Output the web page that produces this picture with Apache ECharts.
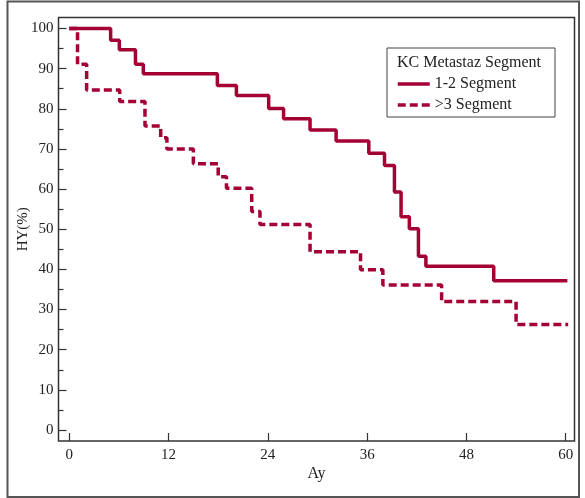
<!DOCTYPE html>
<html>
<head>
<meta charset="utf-8">
<script src="https://cdn.jsdelivr.net/npm/echarts@6/dist/echarts.min.js"></script>
<style>
  html, body { margin: 0; padding: 0; background: #fff; }
  #chart { width: 585px; height: 498px; }
</style>
</head>
<body>
<div id="chart"></div>
<script>
// survival curves (months / percent)
var seg12Time = [0, 5.0, 6.05, 8.0, 8.95, 17.9, 20.2, 24.1, 25.9, 29.1, 32.25, 36.2, 38.1, 39.3, 40.1, 41.1, 42.2, 43.1, 51.3, 60.2];
var seg12Value = [100, 97.1, 94.7, 91.1, 88.7, 85.8, 83.3, 80.1, 77.5, 74.7, 72.0, 68.9, 65.9, 59.3, 53.1, 50.1, 43.3, 40.8, 37.2, 37.2];
var seg3Time = [0, 1.0, 2.1, 6.1, 9.15, 11.05, 11.8, 15.0, 18.0, 19.0, 22.05, 23.05, 29.1, 35.2, 37.9, 45.0, 54.0, 60.3];
var seg3Value = [100, 91.1, 84.7, 81.8, 75.7, 72.8, 70.0, 66.3, 63.1, 60.2, 54.4, 51.2, 44.4, 39.9, 36.1, 32.0, 26.3, 26.3];
var xTicks = [0, 12, 24, 36, 48, 60];
var yTicks = [0, 10, 20, 30, 40, 50, 60, 70, 80, 90, 100];
var yMinorTicks = [5, 15, 25, 35, 45, 55, 65, 75, 85, 95];

var seriesNames = ['1-2 Segment', '>3 Segment'];
var legendTitle = 'KC Metastaz Segment';

function pairs(t, v) {
	var out = [];
	for (var i = 0; i < t.length; i++) {
		out.push([t[i], v[i]]);
	}
	return out;
}

var red = '#a50034';
var font = 'Liberation Serif';
var tickLine = { color: '#333', width: 1.2 };
var chart = echarts.init(document.getElementById('chart'));

var option = {
	animation: false,
	grid: {
		left: 58.5,
		right: 10.5,
		top: 17.5,
		bottom: 57
	},
	xAxis: {
		type: 'value',
		min: -1.3,
		max: 61.06,
		name: 'Ay',
		nameLocation: 'middle',
		nameGap: 25,
		nameMoveOverlap: false,
		nameTextStyle: { fontFamily: font, fontSize: 16, color: '#222' },
		axisLine: { show: false, onZero: false },
		axisTick: { show: true, inside: true, length: 8, customValues: xTicks, lineStyle: tickLine },
		axisLabel: { margin: 7, fontFamily: font, fontSize: 15, color: '#222', customValues: xTicks },
		splitLine: { show: false }
	},
	yAxis: [
		{
			type: 'value',
			min: -2.74,
			max: 102.74,
			name: 'HY(%)',
			nameLocation: 'middle',
			nameGap: 28,
			nameMoveOverlap: false,
			nameTextStyle: { fontFamily: font, fontSize: 15, color: '#222' },
			axisLine: { show: false, onZero: false },
			axisTick: { show: true, inside: true, length: 8, customValues: yTicks, lineStyle: tickLine },
			axisLabel: { margin: 5, fontFamily: font, fontSize: 15, color: '#222', customValues: yTicks },
			splitLine: { show: false }
		},
		{
			// minor ticks only
			type: 'value',
			position: 'left',
			min: -2.74,
			max: 102.74,
			axisLine: { show: false, onZero: false },
			axisTick: { show: true, inside: true, length: 5, customValues: yMinorTicks, lineStyle: tickLine },
			axisLabel: { show: false },
			splitLine: { show: false }
		}
	],
	legend: {
		orient: 'vertical',
		left: 391,
		top: 71,
		itemWidth: 32,
		itemHeight: 14,
		itemGap: 5,
		data: seriesNames,
		itemStyle: { color: 'transparent', borderColor: 'transparent', borderWidth: 0 },
		lineStyle: { width: 3.5 },
		textStyle: { fontFamily: font, fontSize: 16, color: '#222' }
	},
	graphic: [
		{
			type: 'rect',
			shape: { x: 7.5, y: 1.5, width: 571.5, height: 495.5 },
			style: { fill: null, stroke: '#555', lineWidth: 2 },
			silent: true
		},
		{
			type: 'rect',
			shape: { x: 58.5, y: 17.5, width: 516, height: 423.5 },
			style: { fill: null, stroke: '#333', lineWidth: 1.5 },
			silent: true
		},
		{
			type: 'rect',
			shape: { x: 387, y: 48, width: 168, height: 69 },
			style: { fill: '#fff', stroke: '#444', lineWidth: 1 },
			z: 1,
			silent: true
		},
		{
			type: 'text',
			left: 397,
			top: 55,
			style: { text: legendTitle, font: '16px "Liberation Serif"', fill: '#222' },
			z: 2,
			silent: true
		}
	],
	series: [
		{
			name: seriesNames[0],
			type: 'line',
			step: 'end',
			symbol: 'none',
			clip: false,
			data: pairs(seg12Time, seg12Value),
			lineStyle: { color: red, width: 3.5 },
			itemStyle: { color: red }
		},
		{
			name: seriesNames[1],
			type: 'line',
			step: 'end',
			symbol: 'none',
			clip: false,
			data: pairs(seg3Time, seg3Value),
			lineStyle: { color: red, width: 3.5, type: [8, 4] },
			itemStyle: { color: red }
		}
	]
};
chart.setOption(option);
</script>
</body>
</html>
